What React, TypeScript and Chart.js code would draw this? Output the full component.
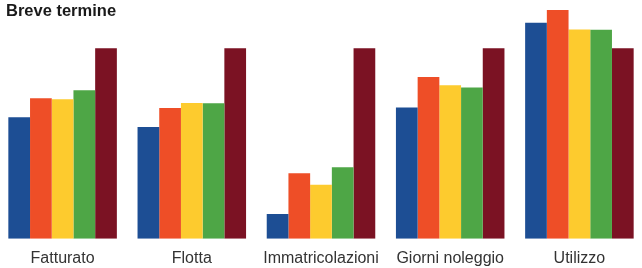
import React, { useEffect, useRef } from "react";
import { Chart, registerables } from "chart.js";

Chart.register(...registerables);

const title = "Breve termine";
const categories = ["Fatturato", "Flotta", "Immatricolazioni", "Giorni noleggio", "Utilizzo"];
const seriesBlue = [63.7, 58.6, 13, 68.8, 113.3];
const seriesOrange = [73.7, 68.6, 34.4, 84.9, 120];
const seriesYellow = [73.2, 71.2, 28.3, 80.5, 109.8];
const seriesGreen = [77.9, 71.1, 37.5, 79.3, 109.6];
const seriesMaroon = [100, 100, 100, 100, 100];
const seriesColors = ["#1D4E94", "#EE4E27", "#FDCB2E", "#4EA646", "#7B1223"];

export default function App() {
  const ref = useRef<HTMLCanvasElement | null>(null);
  useEffect(() => {
    document.body.style.margin = "0";
    document.body.style.overflow = "hidden";
    const all = [seriesBlue, seriesOrange, seriesYellow, seriesGreen, seriesMaroon];
    const chart = new Chart(ref.current as HTMLCanvasElement, {
      type: "bar",
      data: {
        labels: categories,
        datasets: all.map((d, i) => ({
          label: "s" + i,
          data: d,
          backgroundColor: seriesColors[i],
          borderWidth: 0,
          barPercentage: 1,
          categoryPercentage: 0.84,
        })),
      },
      options: {
        animation: false,
        responsive: false,
        maintainAspectRatio: false,
        layout: { padding: { top: 8, bottom: -10, left: 0, right: 0 } },
        plugins: { legend: { display: false }, tooltip: { enabled: false }, title: { display: false } },
        scales: {
          y: { display: false, min: 0, max: 121.05 },
          x: {
            grid: { display: false, drawTicks: false },
            border: { display: false },
            ticks: {
              padding: 10,
              color: "#333333",
              font: { family: "'Liberation Sans', Arial, sans-serif", size: 16 },
              maxRotation: 0,
              autoSkip: false,
            },
          },
        },
      },
    });
    return () => chart.destroy();
  }, []);
  return (
    <div style={{ position: "fixed", left: -2, top: 0, width: 646, height: 268 }}>
      <canvas ref={ref} width={646} height={268} style={{ display: "block" }} />
      <div
        style={{
          position: "absolute",
          left: 8,
          top: 0,
          fontFamily: "'Liberation Sans', Arial, sans-serif",
          fontWeight: "bold",
          fontSize: 16.5,
          lineHeight: "21px",
          color: "#1a1a1a",
        }}
      >
        {title}
      </div>
    </div>
  );
}
